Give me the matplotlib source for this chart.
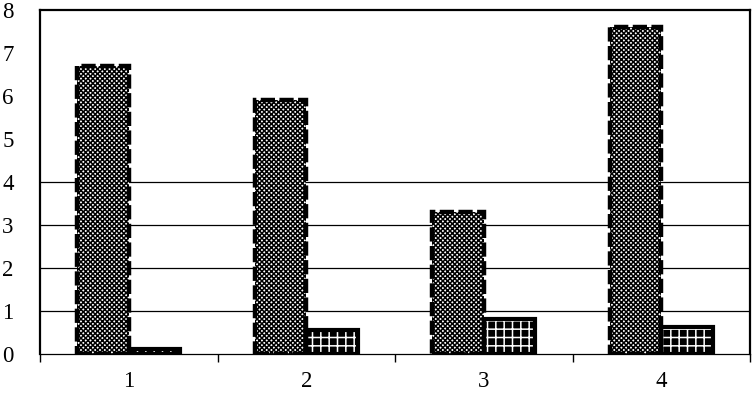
import matplotlib
matplotlib.use("Agg")
import matplotlib.pyplot as plt
import numpy as np

categories = ["1", "2", "3", "4"]
series_a = [6.7, 5.9, 3.3, 7.6]
series_b = [0.12, 0.55, 0.82, 0.62]
yticks = [0, 1, 2, 3, 4, 5, 6, 7, 8]
grid_levels = [1, 2, 3, 4]

plt.rcParams['font.family'] = ['Liberation Serif', 'DejaVu Serif']
plt.rcParams['hatch.linewidth'] = 1.1

fig = plt.figure(figsize=(7.53, 3.95), dpi=100)
ax = fig.add_axes([40/753, 41/395, 710/753, 344/395])

x = np.arange(len(categories))
w = 0.29

for lv in grid_levels:
    ax.axhline(lv, color='black', lw=0.9, zorder=1)

# series A: dense checker texture with dashed outline
ax.bar(x - w/2, series_a, w, color='white', edgecolor='black', hatch='xxxxxxx', lw=0, zorder=2)
ax.bar(x - w/2, series_a, w, fill=False, edgecolor='black', lw=3.2, linestyle=(0, (3.2, 1)), zorder=3)
# series B: black with white grid, solid outline
ax.bar(x + w/2, series_b, w, color='black', edgecolor='white', hatch='++', lw=0, zorder=2)
ax.bar(x + w/2, series_b, w, fill=False, edgecolor='black', lw=3, zorder=3)

ax.set_xlim(-0.5, len(categories) - 0.5)
ax.set_ylim(0, 8)
ax.set_yticks(yticks)
ax.set_yticklabels([str(t) for t in yticks], fontsize=16.5)
ax.tick_params(axis='y', length=0, pad=19)

ax.set_xticks(x)
ax.set_xticklabels(categories, fontsize=16.5)
ax.set_xticks(np.arange(len(categories) + 1) - 0.5, minor=True)
ax.tick_params(axis='x', which='major', length=0, pad=12)
ax.tick_params(axis='x', which='minor', length=6, width=1, direction='out', color='black')

for s in ['top', 'left', 'right']:
    ax.spines[s].set_linewidth(1.6)
ax.spines['bottom'].set_linewidth(0.9)

fig.savefig('out.png', dpi=100)
